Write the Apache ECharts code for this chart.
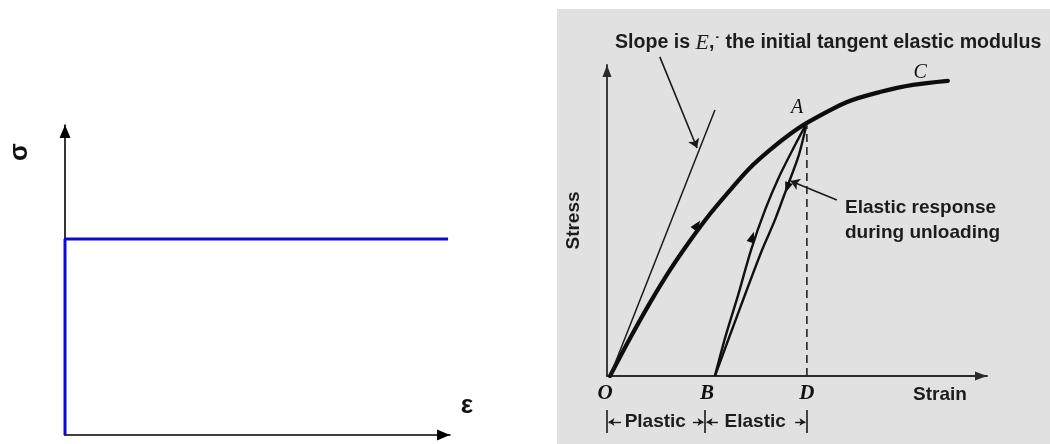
<!DOCTYPE html>
<html>
<head>
<meta charset="utf-8">
<script src="https://cdn.jsdelivr.net/npm/echarts@6/dist/echarts.min.js"></script>
<style>
  html, body { margin: 0; padding: 0; background: #fff; }
  #chart { width: 1050px; height: 444px; }
</style>
</head>
<body>
<div id="chart"></div>
<script>
// ---- Left: rigid, perfectly plastic idealisation ----
const rigidStrain = [0, 0, 9.95];
const rigidStress = [0, 6.32, 6.32];

// ---- Right: loading path O -> A -> C ----
const loadStrain = [0.08, 0.61, 1.13, 1.66, 2.18, 2.71, 3.24, 3.76, 4.29, 4.82, 5.26, 6.32, 7.18, 8.05, 8.97];
const loadStress = [0, 1.22, 2.35, 3.41, 4.34, 5.21, 5.98, 6.69, 7.27, 7.78, 8.14, 8.81, 9.13, 9.36, 9.49];

// initial tangent (slope E)
const tangentStrain = [0.08, 2.84];
const tangentStress = [0, 8.55];

// reloading B -> A
const reloadStrain = [2.84, 3.13, 3.45, 3.79, 4.16, 4.55, 4.95, 5.26];
const reloadStress = [0, 1.32, 2.60, 4.05, 5.34, 6.46, 7.43, 8.14];

// unloading A -> B
const unloadStrain = [5.26, 5.05, 4.76, 4.42, 4.08, 3.53, 2.84];
const unloadStress = [8.14, 7.11, 6.14, 5.02, 4.05, 2.28, 0];

// strain at D (projection of A)
const strainD = 5.26;
const dashTop = 8.04;

// direction markers on the paths: strain, stress, heading (deg)
const arrowStrain = [2.37, 3.82, 4.74];
const arrowStress = [4.86, 4.47, 6.05];
const arrowHeading = [-36, -19, 160];

// point letters
const axisLetters = ['O', 'B', 'D'];
const axisLetterStrain = [-0.05, 2.63, 5.26];
const axisLetterStress = [-0.55, -0.55, -0.55];
const curveLetters = ['A', 'C'];
const curveLetterStrain = [5.0, 8.24];
const curveLetterStress = [8.62, 9.74];

// Plastic / Elastic bracket under the strain axis
const bracketStrain = [0, 2.58, 5.26];
const bracketTop = -1.09;
const bracketBottom = -1.83;
const bracketMid = -1.48;
const bracketWords = ['Plastic', 'Elastic'];
const bracketWordStrain = [1.27, 3.9];
const bracketArrowFrom = [0.37, 2.26, 2.92, 4.95];
const bracketArrowTo = [0.04, 2.54, 2.62, 5.22];

// leader lines from the notes: [fromStrain, fromStress, toStrain, toStress]
const slopeLeader = [1.39, 10.26, 2.37, 7.33];
const elasticLeader = [6.05, 5.66, 4.83, 6.27];

const zip = (xs, ys) => xs.map((x, i) => [x, ys[i]]);

const SANS = 'Liberation Sans';
const SERIF = 'Liberation Serif';
const INK = '#1c1c1c';
const NOTE_FONT = 'bold 19px "Liberation Sans"';

const chart = echarts.init(document.getElementById('chart'), null, { renderer: 'canvas' });

function arrowAxis(size, off, color, width) {
  return {
    show: true,
    symbol: ['none', 'triangle'],
    symbolSize: size,
    symbolOffset: [0, off],
    lineStyle: { color: color, width: width }
  };
}
const hidden = { axisTick: { show: false }, axisLabel: { show: false }, splitLine: { show: false } };
const labelDot = { color: 'rgba(0,0,0,0)', opacity: 1 };

const option = {
  animation: false,
  backgroundColor: '#ffffff',
  grid: [
    { left: 65, right: 600, top: 125, bottom: 9 },
    { left: 607, right: 63, top: 65, bottom: 68 }
  ],
  xAxis: [
    Object.assign({ gridIndex: 0, type: 'value', min: 0, max: 10, axisLine: arrowAxis([11, 13], -6.5, '#000', 1.6) }, hidden),
    Object.assign({ gridIndex: 1, type: 'value', min: 0, max: 10, axisLine: arrowAxis([9, 12], -6, '#2a2a2a', 1.8) }, hidden)
  ],
  yAxis: [
    Object.assign({ gridIndex: 0, type: 'value', min: 0, max: 10, axisLine: arrowAxis([11, 13], -6.5, '#000', 1.6) }, hidden),
    Object.assign({
      gridIndex: 1, type: 'value', min: 0, max: 10,
      axisLine: arrowAxis([9, 12], -6, '#2a2a2a', 1.8),
      name: 'Stress', nameLocation: 'middle', nameGap: 24, nameRotate: 90,
      nameTextStyle: { fontFamily: SANS, fontWeight: 'bold', fontSize: 19, color: INK }
    }, hidden)
  ],
  graphic: [
    { type: 'rect', z: -5, silent: true, shape: { x: 557, y: 9, width: 493, height: 435 }, style: { fill: '#e1e1e1' } },
    { type: 'text', silent: true, x: 615, y: 43,
      style: {
        text: 'Slope is {e|E},{d|˙} the initial tangent elastic modulus',
        font: 'bold 19.6px "Liberation Sans"', fill: INK, textVerticalAlign: 'middle',
        rich: {
          e: { fontFamily: SERIF, fontStyle: 'italic', fontSize: 22, fill: INK },
          d: { fontFamily: SANS, fontWeight: 'bold', fontSize: 17, fill: INK }
        }
      } },
    { type: 'text', silent: true, x: 845, y: 195,
      style: { text: 'Elastic response\nduring unloading', font: NOTE_FONT, fill: INK, lineHeight: 25 } },
    { type: 'text', silent: true, x: 913, y: 395,
      style: { text: 'Strain', font: NOTE_FONT, fill: INK, textVerticalAlign: 'middle' } },
    { type: 'text', silent: true, x: 20, y: 152, rotation: Math.PI / 2,
      style: { text: 'σ', font: 'bold 26px "Liberation Sans"', fill: '#111', textAlign: 'center', textVerticalAlign: 'middle' } },
    { type: 'text', silent: true, x: 467, y: 406,
      style: { text: 'ε', font: 'bold 26px "Liberation Sans"', fill: '#111', textAlign: 'center', textVerticalAlign: 'middle' } }
  ],
  series: [
    {
      type: 'line', xAxisIndex: 0, yAxisIndex: 0, symbol: 'none', silent: true,
      data: zip(rigidStrain, rigidStress),
      lineStyle: { color: '#0a0ad8', width: 3 }
    },
    {
      type: 'line', xAxisIndex: 1, yAxisIndex: 1, symbol: 'none', silent: true, smooth: 0.3,
      data: zip(loadStrain, loadStress),
      lineStyle: { color: '#0d0d0d', width: 4.2, cap: 'round' }
    },
    {
      type: 'line', xAxisIndex: 1, yAxisIndex: 1, symbol: 'none', silent: true,
      data: zip(tangentStrain, tangentStress),
      lineStyle: { color: '#1a1a1a', width: 1.5 }
    },
    {
      type: 'line', xAxisIndex: 1, yAxisIndex: 1, symbol: 'none', silent: true, smooth: 0.3,
      data: zip(reloadStrain, reloadStress),
      lineStyle: { color: '#111', width: 2.4 }
    },
    {
      type: 'line', xAxisIndex: 1, yAxisIndex: 1, symbol: 'none', silent: true, smooth: 0.3,
      data: zip(unloadStrain, unloadStress),
      lineStyle: { color: '#111', width: 2.4 }
    },
    {
      type: 'line', xAxisIndex: 1, yAxisIndex: 1, symbol: 'none', silent: true,
      data: [[strainD, 0], [strainD, dashTop]],
      lineStyle: { color: '#222', width: 1.6, type: [8, 5] }
    },
    {
      type: 'scatter', xAxisIndex: 1, yAxisIndex: 1, silent: true, symbol: 'triangle',
      data: arrowStrain.map((x, i) => ({ value: [x, arrowStress[i]], symbolRotate: arrowHeading[i] })),
      symbolSize: [8, 11], itemStyle: { color: '#0d0d0d', opacity: 1 }
    },
    {
      type: 'lines', coordinateSystem: 'cartesian2d', xAxisIndex: 1, yAxisIndex: 1, silent: true, clip: false,
      symbol: ['none', 'arrow'], symbolSize: 9,
      data: [
        { coords: [[slopeLeader[0], slopeLeader[1]], [slopeLeader[2], slopeLeader[3]]] },
        { coords: [[elasticLeader[0], elasticLeader[1]], [elasticLeader[2], elasticLeader[3]]] }
      ],
      lineStyle: { color: '#1a1a1a', width: 1.6, opacity: 1, curveness: 0 }
    },
    {
      type: 'lines', coordinateSystem: 'cartesian2d', xAxisIndex: 1, yAxisIndex: 1, silent: true, clip: false,
      symbol: 'none',
      data: bracketStrain.map(x => ({ coords: [[x, bracketTop], [x, bracketBottom]] })),
      lineStyle: { color: '#1a1a1a', width: 1.6, opacity: 1 }
    },
    {
      type: 'lines', coordinateSystem: 'cartesian2d', xAxisIndex: 1, yAxisIndex: 1, silent: true, clip: false,
      symbol: ['none', 'arrow'], symbolSize: 6,
      data: bracketArrowFrom.map((x, i) => ({ coords: [[x, bracketMid], [bracketArrowTo[i], bracketMid]] })),
      lineStyle: { color: '#1a1a1a', width: 1.4, opacity: 1 }
    },
    {
      type: 'scatter', xAxisIndex: 1, yAxisIndex: 1, silent: true, clip: false, symbolSize: 1,
      itemStyle: labelDot,
      data: bracketWords.map((w, i) => [bracketWordStrain[i], bracketMid, w]),
      label: { show: true, position: 'inside', formatter: p => p.data[2], fontFamily: SANS, fontWeight: 'bold', fontSize: 19, color: INK }
    },
    {
      type: 'scatter', xAxisIndex: 1, yAxisIndex: 1, silent: true, clip: false, symbolSize: 1,
      itemStyle: labelDot,
      data: axisLetters.map((w, i) => [axisLetterStrain[i], axisLetterStress[i], w]),
      label: { show: true, position: 'inside', formatter: p => p.data[2], fontFamily: SERIF, fontStyle: 'italic', fontWeight: 'bold', fontSize: 21, color: '#111' }
    },
    {
      type: 'scatter', xAxisIndex: 1, yAxisIndex: 1, silent: true, clip: false, symbolSize: 1,
      itemStyle: labelDot,
      data: curveLetters.map((w, i) => [curveLetterStrain[i], curveLetterStress[i], w]),
      label: { show: true, position: 'inside', formatter: p => p.data[2], fontFamily: SERIF, fontStyle: 'italic', fontSize: 20, color: '#111' }
    }
  ]
};

chart.setOption(option);
</script>
</body>
</html>
